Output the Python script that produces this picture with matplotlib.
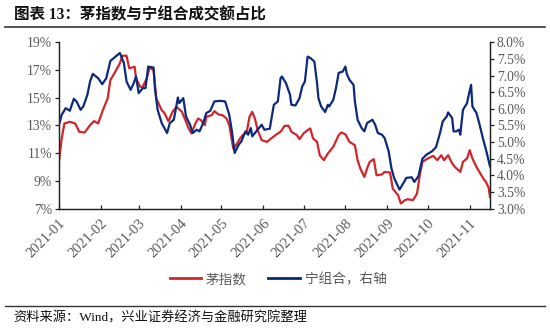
import matplotlib
matplotlib.use("Agg")
import matplotlib.pyplot as plt
import matplotlib.dates as mdates
import pandas as pd
from matplotlib.lines import Line2D

# ---- data ----
mao_dates = ["2021-01-01","2021-01-03","2021-01-05","2021-01-09","2021-01-13","2021-01-16","2021-01-20",
             "2021-01-24","2021-01-27","2021-01-30","2021-02-02","2021-02-06","2021-02-08","2021-02-11",
             "2021-02-15","2021-02-17","2021-02-20","2021-02-22","2021-02-26","2021-02-27","2021-03-02",
             "2021-03-04","2021-03-07","2021-03-09","2021-03-12","2021-03-14","2021-03-18","2021-03-20",
             "2021-03-23","2021-03-26","2021-03-29","2021-04-02","2021-04-04","2021-04-07","2021-04-09",
             "2021-04-12","2021-04-14","2021-04-16","2021-04-19","2021-04-20","2021-04-24","2021-04-26",
             "2021-04-29","2021-05-02","2021-05-05","2021-05-07","2021-05-10","2021-05-12","2021-05-15",
             "2021-05-17","2021-05-20","2021-05-22","2021-05-24","2021-05-26","2021-05-28","2021-05-31",
             "2021-06-04","2021-06-07","2021-06-12","2021-06-14","2021-06-17","2021-06-20","2021-06-22",
             "2021-06-26","2021-06-28","2021-07-01","2021-07-04","2021-07-06","2021-07-08","2021-07-11",
             "2021-07-13","2021-07-16","2021-07-19","2021-07-23","2021-07-27","2021-07-29","2021-08-01",
             "2021-08-04","2021-08-08","2021-08-10","2021-08-12","2021-08-15","2021-08-17","2021-08-19",
             "2021-08-22","2021-08-24","2021-08-28","2021-08-30","2021-09-03","2021-09-05","2021-09-09",
             "2021-09-11","2021-09-14","2021-09-16","2021-09-20","2021-09-23","2021-09-25","2021-09-27",
             "2021-10-01","2021-10-05","2021-10-08","2021-10-11","2021-10-13","2021-10-16","2021-10-19",
             "2021-10-21","2021-10-25","2021-10-27","2021-10-30","2021-11-01","2021-11-03","2021-11-06",
             "2021-11-09","2021-11-11","2021-11-13","2021-11-15","2021-11-16"]
mao_vals = [10.42,12.06,13.14,13.26,13.14,12.54,12.49,
            13.02,13.31,13.14,13.98,14.95,16.27,16.76,
            17.48,18.03,18.03,17.12,17.24,16.40,15.79,
            15.79,16.40,17.16,17.00,14.95,14.10,13.90,
            13.30,13.98,14.34,13.98,13.50,12.78,12.42,
            13.14,13.50,13.38,13.02,13.62,13.74,14.03,
            13.79,13.74,13.50,13.02,11.34,11.57,12.06,
            12.30,12.54,13.62,13.98,13.50,12.66,11.94,
            11.81,12.06,12.42,12.54,12.97,12.97,12.54,
            12.30,12.01,12.42,12.66,12.78,12.06,11.81,
            10.85,10.49,10.97,11.45,12.30,12.49,12.35,
            11.81,11.57,10.49,9.89,9.28,9.89,10.37,
            10.56,9.40,9.46,9.64,9.60,8.44,7.96,
            7.36,7.60,7.67,7.60,8.08,9.40,10.37,
            10.61,10.80,10.49,10.85,10.49,10.85,10.25,
            10.00,9.64,10.37,10.61,11.21,10.61,10.00,
            9.50,9.17,8.92,8.50,7.84]

ning_dates = ["2021-01-01","2021-01-03","2021-01-06","2021-01-09","2021-01-12","2021-01-14","2021-01-17",
              "2021-01-19","2021-01-22","2021-01-24","2021-01-26","2021-01-30","2021-02-02","2021-02-05",
              "2021-02-08","2021-02-11","2021-02-15","2021-02-18","2021-02-20","2021-02-23","2021-02-25",
              "2021-02-27","2021-03-01","2021-03-04","2021-03-06","2021-03-08","2021-03-12","2021-03-13",
              "2021-03-15","2021-03-18","2021-03-22","2021-03-24","2021-03-27","2021-03-30","2021-03-31",
              "2021-04-03","2021-04-05","2021-04-08","2021-04-10","2021-04-13","2021-04-15","2021-04-18",
              "2021-04-20","2021-04-23","2021-04-26","2021-04-30","2021-05-04","2021-05-07","2021-05-09",
              "2021-05-11","2021-05-14","2021-05-16","2021-05-19","2021-05-21","2021-05-23","2021-05-24",
              "2021-05-27","2021-05-31","2021-06-02","2021-06-06","2021-06-09","2021-06-12","2021-06-14",
              "2021-06-15","2021-06-18","2021-06-21","2021-06-22","2021-06-25","2021-06-28","2021-06-30",
              "2021-07-02","2021-07-04","2021-07-06","2021-07-09","2021-07-11","2021-07-12","2021-07-14",
              "2021-07-17","2021-07-19","2021-07-20","2021-07-23","2021-07-25","2021-07-27","2021-07-30",
              "2021-08-01","2021-08-02","2021-08-04","2021-08-07","2021-08-08","2021-08-10","2021-08-13",
              "2021-08-15","2021-08-17","2021-08-21","2021-08-23","2021-08-25","2021-08-28","2021-08-30",
              "2021-09-02","2021-09-04","2021-09-06","2021-09-10","2021-09-13","2021-09-15","2021-09-19",
              "2021-09-21","2021-09-24","2021-09-27","2021-09-30","2021-10-04","2021-10-07","2021-10-10",
              "2021-10-12","2021-10-15","2021-10-16","2021-10-19","2021-10-20","2021-10-22","2021-10-24",
              "2021-10-25","2021-10-27","2021-10-30","2021-10-31","2021-11-02","2021-11-03","2021-11-06",
              "2021-11-08","2021-11-11","2021-11-13","2021-11-16"]
ning_vals = [5.52,5.82,6.02,5.94,6.30,6.22,5.97,
             6.07,6.42,6.82,7.05,6.92,6.74,6.92,
             7.44,7.54,7.68,7.38,6.82,6.57,6.74,
             6.97,6.47,6.62,6.62,7.27,7.24,6.62,
             5.97,5.57,5.27,5.57,5.67,6.34,6.17,
             6.32,5.77,5.52,5.27,5.37,5.32,5.60,
             5.87,5.94,6.22,6.24,6.22,5.82,5.32,
             4.67,4.92,5.02,5.32,5.22,5.42,5.17,
             5.32,5.52,5.37,5.40,6.12,6.22,6.92,
             6.97,6.77,6.42,6.12,6.10,6.32,6.67,
             6.82,7.57,7.53,7.42,6.77,6.32,6.07,
             5.90,6.12,6.07,6.27,6.62,7.08,7.12,
             7.27,7.05,6.87,6.72,6.22,5.67,5.42,
             5.32,5.57,5.67,5.52,5.27,5.22,5.12,
             4.72,4.22,3.92,3.57,3.77,3.92,3.94,
             3.80,3.97,4.50,4.62,4.72,4.84,5.27,
             5.62,5.77,5.89,5.72,5.32,5.32,5.37,
             5.22,5.97,6.17,6.37,6.72,6.07,5.87,
             5.57,5.07,4.77,4.27]

month_ticks = ["2021-01","2021-02","2021-03","2021-04","2021-05","2021-06",
               "2021-07","2021-08","2021-09","2021-10","2021-11"]
left_ticks = [7, 9, 11, 13, 15, 17, 19]
right_ticks = [3.0, 3.5, 4.0, 4.5, 5.0, 5.5, 6.0, 6.5, 7.0, 7.5, 8.0]

title_text = "图表 13：茅指数与宁组合成交额占比"
source_text = "资料来源：Wind，兴业证券经济与金融研究院整理"
label_mao = "茅指数"
label_ning = "宁组合，右轴"

# ---- style ----
RED = "#D0262B"
BLUE = "#0C2A7C"
GRAY = "#595959"
FAM = ["Liberation Serif", "Noto Sans CJK SC", "DejaVu Sans"]
CJK = ["Noto Sans CJK SC", "DejaVu Sans"]

fig = plt.figure(figsize=(5.5, 3.34), dpi=100)
ax = fig.add_axes([59/550, 1-208.5/334, (490-59)/550, (208.5-42.3)/334])
ax2 = ax.twinx()

md = pd.to_datetime(mao_dates)
nd = pd.to_datetime(ning_dates)
ax.plot(md, mao_vals, color=RED, lw=1.6, solid_joinstyle="round", zorder=3)
ax2.plot(nd, ning_vals, color=BLUE, lw=1.6, solid_joinstyle="round", zorder=3)

ax.set_xlim(pd.Timestamp("2021-01-01"), pd.Timestamp("2021-11-16"))
ax.set_ylim(7, 19)
ax2.set_ylim(3, 8)

tick_pos = pd.to_datetime([m + "-01" for m in month_ticks])
ax.set_xticks(tick_pos)
ax.set_xticklabels(month_ticks, rotation=45, ha="right", rotation_mode="anchor",
                   fontfamily="Liberation Serif", fontsize=10.5, color=GRAY)
ax.set_yticks(left_ticks)
ax.set_yticklabels([f"{v}%" for v in left_ticks], fontfamily="Liberation Serif",
                   fontsize=9.8, color=GRAY)
ax2.set_yticks(right_ticks)
ax2.set_yticklabels([f"{v:.1f}%" for v in right_ticks], fontfamily="Liberation Serif",
                    fontsize=9.8, color=GRAY)

for a in (ax, ax2):
    a.spines["top"].set_visible(False)
    for s in ("left", "right", "bottom"):
        a.spines[s].set_color("#222222")
        a.spines[s].set_linewidth(0.9)
ax.tick_params(axis="x", direction="in", length=3, width=0.9, color="#222222", pad=6)
ax.tick_params(axis="y", direction="out", length=3, width=0.9, color="#222222", pad=2)
ax2.tick_params(axis="y", direction="out", length=3, width=0.9, color="#222222", pad=2)
ax.patch.set_visible(False)

# legend
handles = [Line2D([], [], color=RED, lw=2), Line2D([], [], color=BLUE, lw=2)]
leg = fig.legend(handles, [label_mao, label_ning], loc="center", bbox_to_anchor=(278/550, 1-279/334),
                 ncol=2, frameon=False, handlelength=2.3, columnspacing=1.6, handletextpad=0.35,
                 prop={"family": CJK, "size": 9.8})
for t in leg.get_texts():
    t.set_color(GRAY)

# title and source
fig.text(14/550, 1-15/334, title_text, fontsize=11.2, fontweight="bold",
         family=FAM, va="center", ha="left", color="#111111")
fig.add_artist(Line2D([5/550, 545/550], [1-26.5/334, 1-26.5/334], color="#333333", lw=1.2))
fig.add_artist(Line2D([5/550, 545/550], [1-306/334, 1-306/334], color="#333333", lw=1.0))
fig.text(13/550, 1-317.5/334, source_text, fontsize=9.5, family=FAM, va="center", ha="left",
         color="#111111")

fig.savefig("out.png", dpi=100)
